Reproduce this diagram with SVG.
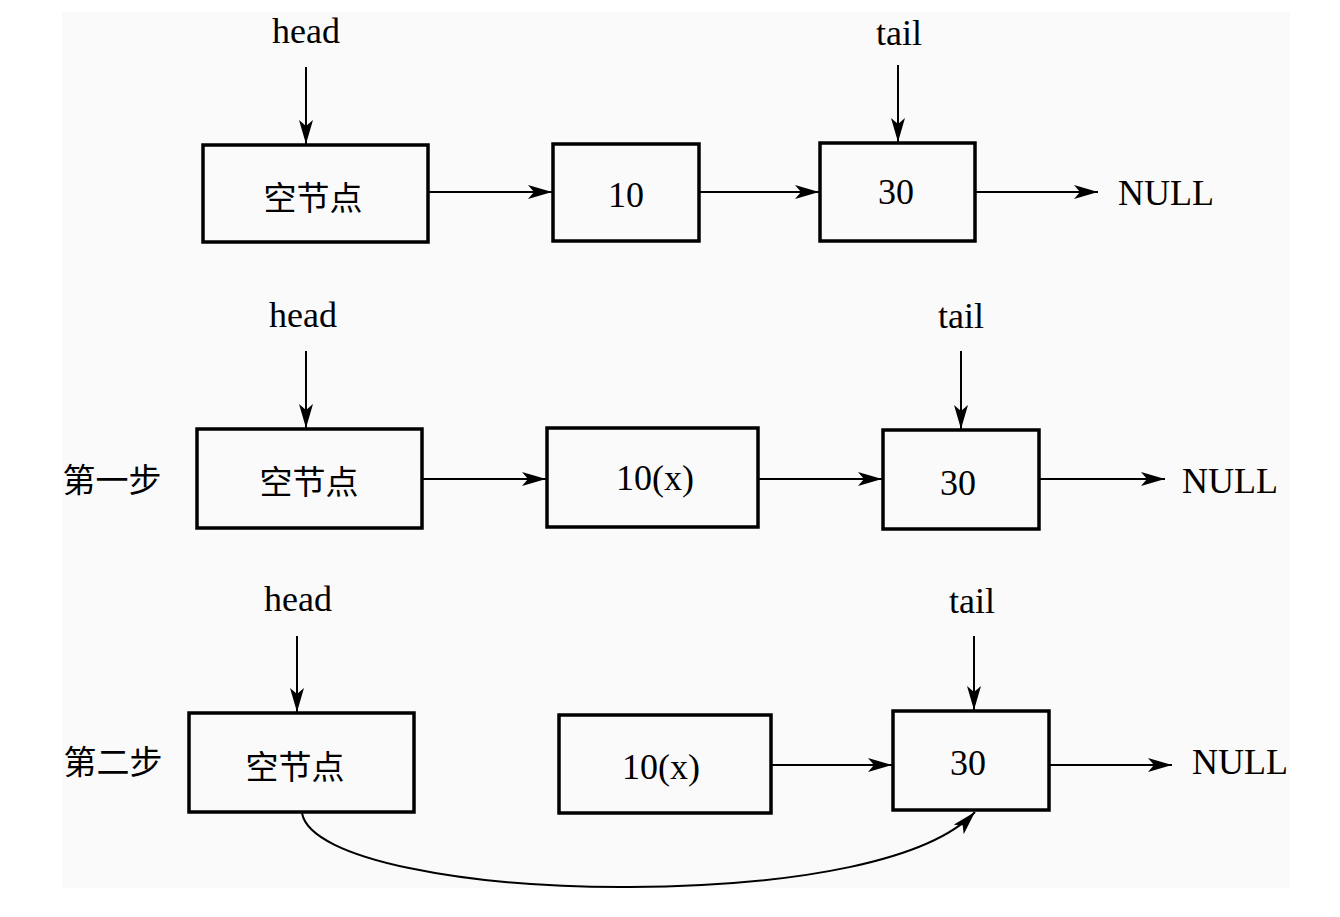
<svg xmlns="http://www.w3.org/2000/svg" width="1340" height="917" viewBox="0 0 1340 917">
<style>
.box{fill:none;stroke:#000;stroke-width:3.5}
.en{font-family:"Liberation Serif","Times New Roman",serif;font-size:36px;fill:#000}
.cn{font-family:"Noto Sans CJK SC","Noto Sans",sans-serif;font-size:33px;fill:#000}
.ln{fill:none;stroke:#000;stroke-width:2}
</style>
<defs>
<marker id="ah" markerUnits="userSpaceOnUse" markerWidth="26" markerHeight="14" refX="24" refY="7" orient="auto">
<path d="M0,0 L24,7 L0,14 L6,7 Z" fill="#000"/>
</marker>
</defs>
<rect x="0" y="0" width="1340" height="917" fill="#fff"/>
<rect x="62" y="12" width="1228" height="876" fill="#fafafa"/>

<g id="row1">
<text class="en" x="306" y="43" text-anchor="middle">head</text>
<text class="en" x="899" y="45" text-anchor="middle">tail</text>
<g id="r1-empty"><rect class="box" x="203" y="145" width="225" height="97"/><text class="cn" x="313" y="210" text-anchor="middle">空节点</text></g>
<g id="r1-n10"><rect class="box" x="553" y="144" width="146" height="97"/><text class="en" x="626" y="207" text-anchor="middle">10</text></g>
<g id="r1-n30"><rect class="box" x="820" y="143" width="155" height="98"/><text class="en" x="896" y="204" text-anchor="middle">30</text></g>
<text class="en" x="1166" y="205" text-anchor="middle">NULL</text>
</g>

<g id="row2">
<text class="en" x="303" y="327" text-anchor="middle">head</text>
<text class="en" x="961" y="328" text-anchor="middle">tail</text>
<text class="cn" x="112" y="492" text-anchor="middle">第一步</text>
<g id="r2-empty"><rect class="box" x="197" y="429" width="225" height="99"/><text class="cn" x="309" y="494" text-anchor="middle">空节点</text></g>
<g id="r2-n10"><rect class="box" x="547" y="428" width="211" height="99"/><text class="en" x="655" y="490" text-anchor="middle">10(x)</text></g>
<g id="r2-n30"><rect class="box" x="883" y="430" width="156" height="99"/><text class="en" x="958" y="495" text-anchor="middle">30</text></g>
<text class="en" x="1230" y="493" text-anchor="middle">NULL</text>
</g>

<g id="row3">
<text class="en" x="298" y="611" text-anchor="middle">head</text>
<text class="en" x="972" y="613" text-anchor="middle">tail</text>
<text class="cn" x="113" y="774" text-anchor="middle">第二步</text>
<g id="r3-empty"><rect class="box" x="189" y="713" width="225" height="99"/><text class="cn" x="295" y="779" text-anchor="middle">空节点</text></g>
<g id="r3-n10"><rect class="box" x="559" y="715" width="212" height="98"/><text class="en" x="661" y="779" text-anchor="middle">10(x)</text></g>
<g id="r3-n30"><rect class="box" x="893" y="711" width="156" height="99"/><text class="en" x="968" y="775" text-anchor="middle">30</text></g>
<text class="en" x="1240" y="774" text-anchor="middle">NULL</text>
</g>

<g id="connectors">
<line class="ln" x1="306" y1="67" x2="306" y2="144" marker-end="url(#ah)"/>
<line class="ln" x1="898" y1="65" x2="898" y2="142" marker-end="url(#ah)"/>
<line class="ln" x1="428" y1="192" x2="552" y2="192" marker-end="url(#ah)"/>
<line class="ln" x1="699" y1="192" x2="819" y2="192" marker-end="url(#ah)"/>
<line class="ln" x1="975" y1="192" x2="1098" y2="192" marker-end="url(#ah)"/>

<line class="ln" x1="306" y1="351" x2="306" y2="428" marker-end="url(#ah)"/>
<line class="ln" x1="961" y1="351" x2="961" y2="429" marker-end="url(#ah)"/>
<line class="ln" x1="422" y1="479" x2="546" y2="479" marker-end="url(#ah)"/>
<line class="ln" x1="758" y1="479" x2="882" y2="479" marker-end="url(#ah)"/>
<line class="ln" x1="1039" y1="479" x2="1165" y2="479" marker-end="url(#ah)"/>

<line class="ln" x1="297" y1="636" x2="297" y2="712" marker-end="url(#ah)"/>
<line class="ln" x1="974" y1="636" x2="974" y2="710" marker-end="url(#ah)"/>
<line class="ln" x1="771" y1="765" x2="892" y2="765" marker-end="url(#ah)"/>
<line class="ln" x1="1049" y1="765" x2="1172" y2="765" marker-end="url(#ah)"/>
<path class="ln" d="M302,813 C310,860 470,888 630,887 C800,886 930,860 975,812" marker-end="url(#ah)"/>
</g>
</svg>
